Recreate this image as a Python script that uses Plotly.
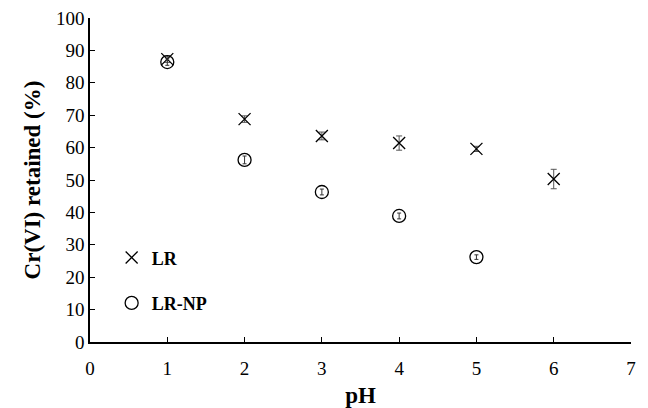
import plotly.graph_objects as go

ph_lr = [1, 2, 3, 4, 5, 6]
lr_vals = [87.3, 68.8, 63.6, 61.4, 59.6, 50.3]
lr_err = [1.0, 1.0, 1.2, 2.2, 0.8, 3.0]

ph_np = [1, 2, 3, 4, 5]
np_vals = [86.4, 56.2, 46.3, 38.9, 26.2]
np_err = [1.0, 1.2, 0.9, 0.9, 0.7]

x_ticks = [0, 1, 2, 3, 4, 5, 6, 7]
y_ticks = [0, 10, 20, 30, 40, 50, 60, 70, 80, 90, 100]

font_fam = "Liberation Serif"

fig = go.Figure()
fig.add_trace(go.Scatter(
    x=ph_lr, y=lr_vals, mode="markers", name="LR", legendgroup="a",
    marker=dict(symbol="x-thin-open", size=12, color="black",
                line=dict(width=1.3, color="black")),
    error_y=dict(type="data", array=lr_err, color="#555555", thickness=1, width=3),
))
fig.add_trace(go.Scatter(
    x=ph_np, y=np_vals, mode="markers", name="LR-NP", legendgroup="b",
    marker=dict(symbol="circle-open", size=13, color="black",
                line=dict(width=1.3, color="black")),
    error_y=dict(type="data", array=np_err, color="#333333", thickness=1, width=2),
))

fig.update_layout(
    width=648, height=408,
    margin=dict(l=90, r=17, t=18, b=66),
    plot_bgcolor="white", paper_bgcolor="white",
    font=dict(family=font_fam, color="black", size=19),
    legend=dict(x=0.04, y=0.317, xanchor="left", yanchor="top",
                bgcolor="rgba(0,0,0,0)", tracegroupgap=19,
                traceorder="grouped", itemwidth=30,
                font=dict(family=font_fam, size=18, color="black", weight="bold")),
    xaxis=dict(range=[0, 7], tickvals=x_ticks, ticks="inside", ticklen=5,
               tickcolor="black", showline=True, linecolor="black", linewidth=1.5,
               showgrid=False, zeroline=False, automargin=False,
               ticklabelstandoff=8,
               title=dict(text="<b>pH</b>", font=dict(size=23), standoff=10),
               tickfont=dict(size=19)),
    yaxis=dict(range=[0, 100], tickvals=y_ticks, ticks="inside", ticklen=5,
               tickcolor="black", showline=True, linecolor="black", linewidth=1.5,
               showgrid=False, zeroline=False, automargin=False,
               title=dict(text="<b>Cr(VI) retained (%)</b>", font=dict(size=23), standoff=9),
               tickfont=dict(size=19)),
)

fig.write_html("out.html")
